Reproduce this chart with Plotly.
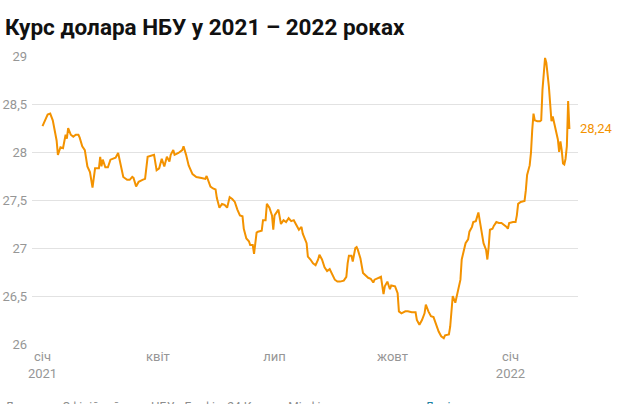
import plotly.graph_objects as go
import pandas as pd

title_text = "Курс долара НБУ у 2021 – 2022 роках"

dates = [
    "2021-01-01", "2021-01-05", "2021-01-07", "2021-01-09", "2021-01-12", "2021-01-13", "2021-01-15",
    "2021-01-17", "2021-01-19", "2021-01-20", "2021-01-21", "2021-01-23", "2021-01-25", "2021-01-27",
    "2021-01-29", "2021-01-30", "2021-02-01", "2021-02-03", "2021-02-05", "2021-02-07", "2021-02-09",
    "2021-02-11", "2021-02-14", "2021-02-15", "2021-02-16", "2021-02-17", "2021-02-19", "2021-02-21",
    "2021-02-23", "2021-02-25", "2021-02-27", "2021-03-01", "2021-03-03", "2021-03-05", "2021-03-08",
    "2021-03-10", "2021-03-12", "2021-03-13", "2021-03-15", "2021-03-17", "2021-03-20", "2021-03-22",
    "2021-03-24", "2021-03-29", "2021-03-31", "2021-04-02", "2021-04-04", "2021-04-06", "2021-04-08",
    "2021-04-10", "2021-04-11", "2021-04-13", "2021-04-14", "2021-04-17", "2021-04-20", "2021-04-21",
    "2021-04-23", "2021-04-25", "2021-04-28", "2021-05-01", "2021-05-05", "2021-05-08", "2021-05-09",
    "2021-05-12", "2021-05-14", "2021-05-16", "2021-05-17", "2021-05-19", "2021-05-21", "2021-05-23",
    "2021-05-25", "2021-05-27", "2021-05-29", "2021-05-31", "2021-06-02", "2021-06-04", "2021-06-06",
    "2021-06-07", "2021-06-09", "2021-06-11", "2021-06-12", "2021-06-14", "2021-06-15", "2021-06-17",
    "2021-06-18", "2021-06-21", "2021-06-22", "2021-06-24", "2021-06-25", "2021-06-27", "2021-06-29",
    "2021-06-30", "2021-07-01", "2021-07-03", "2021-07-04", "2021-07-06", "2021-07-08", "2021-07-10",
    "2021-07-12", "2021-07-14", "2021-07-16", "2021-07-18", "2021-07-20", "2021-07-22", "2021-07-23",
    "2021-07-26", "2021-07-27", "2021-07-29", "2021-07-31", "2021-08-02", "2021-08-04", "2021-08-05",
    "2021-08-07", "2021-08-09", "2021-08-11", "2021-08-13", "2021-08-15", "2021-08-17", "2021-08-19",
    "2021-08-21", "2021-08-24", "2021-08-26", "2021-08-27", "2021-08-28", "2021-08-30", "2021-08-31",
    "2021-09-02", "2021-09-03", "2021-09-04", "2021-09-06", "2021-09-08", "2021-09-10", "2021-09-12",
    "2021-09-14", "2021-09-16", "2021-09-17", "2021-09-20", "2021-09-22", "2021-09-24", "2021-09-25",
    "2021-09-27", "2021-09-29", "2021-09-30", "2021-10-03", "2021-10-05", "2021-10-06", "2021-10-08",
    "2021-10-11", "2021-10-13", "2021-10-16", "2021-10-19", "2021-10-20", "2021-10-22", "2021-10-24",
    "2021-10-26", "2021-10-27", "2021-10-29", "2021-10-31", "2021-11-02", "2021-11-04", "2021-11-06",
    "2021-11-08", "2021-11-10", "2021-11-11", "2021-11-14", "2021-11-15", "2021-11-16", "2021-11-17",
    "2021-11-19", "2021-11-20", "2021-11-23", "2021-11-24", "2021-11-26", "2021-11-27", "2021-11-29",
    "2021-11-30", "2021-12-02", "2021-12-03", "2021-12-05", "2021-12-07", "2021-12-08", "2021-12-10",
    "2021-12-11", "2021-12-13", "2021-12-14", "2021-12-15", "2021-12-16", "2021-12-18", "2021-12-19",
    "2021-12-21", "2021-12-23", "2021-12-25", "2021-12-27", "2021-12-29", "2021-12-30", "2021-12-31",
    "2022-01-03", "2022-01-05", "2022-01-06", "2022-01-07", "2022-01-09", "2022-01-12", "2022-01-13",
    "2022-01-14", "2022-01-16", "2022-01-17", "2022-01-18", "2022-01-19", "2022-01-20", "2022-01-22",
    "2022-01-24", "2022-01-25", "2022-01-26", "2022-01-27", "2022-01-28", "2022-01-29", "2022-01-30",
    "2022-01-31", "2022-02-01", "2022-02-02", "2022-02-03", "2022-02-04", "2022-02-05", "2022-02-06",
    "2022-02-07", "2022-02-08", "2022-02-09", "2022-02-10", "2022-02-11", "2022-02-12", "2022-02-13",
    "2022-02-14", "2022-02-15", "2022-02-16",
]

rates = [
    28.27, 28.39, 28.40, 28.33, 28.12, 27.97, 28.05,
    28.04, 28.18, 28.14, 28.25, 28.18, 28.16, 28.18,
    28.18, 28.15, 28.06, 28.02, 27.85, 27.79, 27.63,
    27.83, 27.83, 27.95, 27.85, 27.92, 27.84, 27.84,
    27.92, 27.93, 27.94, 27.99, 27.88, 27.74, 27.71,
    27.71, 27.74, 27.73, 27.64, 27.69, 27.71, 27.72,
    27.95, 27.97, 27.81, 27.83, 27.93, 27.85, 27.95,
    27.90, 27.97, 28.02, 27.97, 27.99, 28.02, 28.06,
    27.97, 27.86, 27.77, 27.74, 27.73, 27.72, 27.75,
    27.64, 27.62, 27.61, 27.52, 27.42, 27.46, 27.45,
    27.42, 27.53, 27.51, 27.48, 27.40, 27.34, 27.33,
    27.20, 27.10, 27.07, 27.03, 27.03, 26.94, 27.16,
    27.17, 27.18, 27.29, 27.29, 27.46, 27.42, 27.34,
    27.19, 27.34, 27.38, 27.40, 27.25, 27.29, 27.27,
    27.31, 27.28, 27.29, 27.24, 27.19, 27.22, 27.15,
    27.05, 26.91, 26.88, 26.84, 26.82, 26.88, 26.93,
    26.88, 26.80, 26.76, 26.78, 26.72, 26.67, 26.65,
    26.65, 26.66, 26.70, 26.84, 26.92, 26.92, 26.86,
    27.00, 27.01, 26.98, 26.89, 26.74, 26.71, 26.69,
    26.68, 26.64, 26.67, 26.69, 26.70, 26.52, 26.60,
    26.65, 26.57, 26.61, 26.60, 26.53, 26.34, 26.32,
    26.34, 26.34, 26.33, 26.33, 26.25, 26.20, 26.25,
    26.32, 26.41, 26.34, 26.29, 26.28, 26.20, 26.13,
    26.08, 26.06, 26.09, 26.10, 26.18, 26.32, 26.50,
    26.43, 26.49, 26.67, 26.88, 27.01, 27.05, 27.09,
    27.17, 27.22, 27.27, 27.28, 27.37, 27.29, 27.10,
    27.05, 26.98, 26.88, 27.01, 27.19, 27.20, 27.23,
    27.27, 27.26, 27.26, 27.24, 27.22, 27.20, 27.26,
    27.27, 27.27, 27.34, 27.46, 27.48, 27.49, 27.60,
    27.76, 27.86, 27.99, 28.23, 28.40, 28.33, 28.32,
    28.32, 28.33, 28.65, 28.85, 28.98, 28.93, 28.82,
    28.68, 28.50, 28.32, 28.37, 28.30, 28.23, 28.18,
    28.13, 28.00, 28.11, 28.02, 27.88, 27.87, 27.93,
    28.06, 28.53, 28.24,
]

y_tick_values = [26, 26.5, 27, 27.5, 28, 28.5, 29]
y_tick_labels = ["26", "26,5", "27", "27,5", "28", "28,5", "29"]
x_tick_dates = ["2021-01-01", "2021-04-01", "2021-07-01", "2021-10-01", "2022-01-01"]
x_tick_labels = ["січ<br>2021", "квіт", "лип", "жовт", "січ<br>2022"]
last_label = "28,24"
footer_text = "Джерело: Офіційний курс НБУ • Графік: 24 Канал • Мінфін"
footer_link = "Дані"

ORANGE = "#f39200"
GREY = "#969696"

W, H = 642, 404
ML, MR, MT, MB = 32, 64, 55, 59
PW, PH = W - ML - MR, H - MT - MB

t0 = pd.Timestamp("2021-01-01")
x_start = t0 - pd.Timedelta(days=8.2)
x_end = t0 + pd.Timedelta(days=417.7)

fig = go.Figure()
fig.add_trace(go.Scatter(
    x=dates, y=rates, mode="lines",
    line=dict(color=ORANGE, width=2),
    hoverinfo="skip", showlegend=False,
))

fig.add_annotation(
    x=dates[-1], y=rates[-1], text=last_label, showarrow=False,
    xanchor="left", yanchor="middle", xshift=9,
    font=dict(family="Roboto", size=13, color=ORANGE),
)

fig.add_annotation(
    xref="paper", yref="paper",
    x=(3 - ML) / PW, y=(H - MB - 398) / PH,
    text=footer_text, showarrow=False, xanchor="left", yanchor="top",
    font=dict(family="Roboto", size=12, color="#8c8c8c"),
)
fig.add_annotation(
    xref="paper", yref="paper",
    x=(423 - ML) / PW, y=(H - MB - 398) / PH,
    text=footer_link, showarrow=False, xanchor="left", yanchor="top",
    font=dict(family="Roboto", size=12, color="#1d81a2"),
)

fig.update_layout(
    width=W, height=H,
    margin=dict(l=ML, r=MR, t=MT, b=MB, autoexpand=False),
    paper_bgcolor="white", plot_bgcolor="white",
    font=dict(family="Roboto", size=13, color=GREY),
    title=dict(
        text="<b>" + title_text + "</b>",
        x=5 / W, xanchor="left", xref="container",
        y=1 - 27 / H, yanchor="middle", yref="container",
        font=dict(family="Roboto", size=22.5, color="#111111"),
    ),
    xaxis=dict(
        type="date", range=[x_start, x_end], automargin=False,
        tickvals=x_tick_dates, ticktext=x_tick_labels,
        showgrid=False, zeroline=False, showline=False, ticks="",
        tickfont=dict(family="Roboto", size=13, color=GREY),
        ticklabelstandoff=2,
    ),
    yaxis=dict(
        range=[25.9896, 29.0104], automargin=False,
        tickvals=y_tick_values, ticktext=y_tick_labels,
        showgrid=True, gridcolor="#e2e2e2", gridwidth=1,
        zeroline=False, showline=False, ticks="",
        tickfont=dict(family="Roboto", size=13, color=GREY),
        ticklabelstandoff=4,
    ),
)

fig.write_html(
    "out.html",
    config={"displayModeBar": False, "staticPlot": True},
    post_script="document.body.style.margin='0';document.body.style.overflow='hidden';",
)
